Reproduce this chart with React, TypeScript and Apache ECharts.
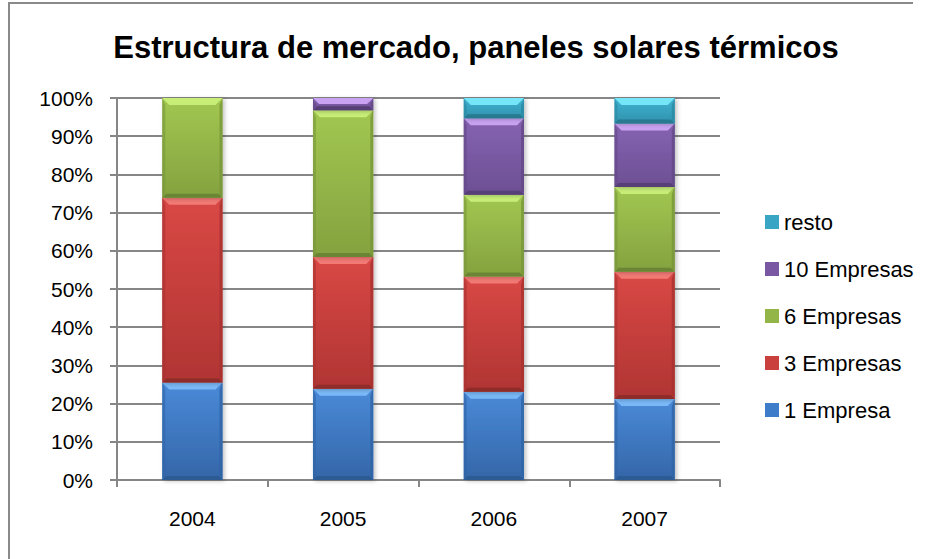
import React, { useEffect, useRef } from "react";
import * as echarts from "echarts";

const categories = ["2004", "2005", "2006", "2007"];
const unaEmpresa = [25.5, 23.9, 23.1, 21.2];
const tresEmpresas = [48.4, 34.5, 30.2, 33.3];
const seisEmpresas = [26.1, 38.4, 21.4, 22.2];
const diezEmpresas = [0, 3.2, 20.0, 16.6];
const resto = [0, 0, 5.3, 6.7];

const seriesNames = ["1 Empresa", "3 Empresas", "6 Empresas", "10 Empresas", "resto"];
const seriesValues = [unaEmpresa, tresEmpresas, seisEmpresas, diezEmpresas, resto];

const palettes = [
  { base: "#3d7cc9", light: "#7ab8f7", top: "#4a8ad8", bottom: "#3466a8", side: "#2f64a6", dark: "#2c5a92" },
  { base: "#c9403d", light: "#f37a75", top: "#d94845", bottom: "#b03533", side: "#a83230", dark: "#8e2c2a" },
  { base: "#93b548", light: "#c8ee78", top: "#a2c751", bottom: "#84a23f", side: "#78963a", dark: "#6a8534" },
  { base: "#7957a3", light: "#c9a3f2", top: "#8663b2", bottom: "#6c4f93", side: "#634887", dark: "#563f76" },
  { base: "#37a5c3", light: "#74e6f7", top: "#3fb4d3", bottom: "#3191ac", side: "#2c89a3", dark: "#277a90" },
];

function buildData(k: number) {
  return categories.map((_, i) => {
    let bottom = 0;
    for (let j = 0; j < k; j++) bottom += seriesValues[j][i];
    return [i, bottom, bottom + seriesValues[k][i]];
  });
}

const FONT = "Liberation Sans, Arial, sans-serif";

export default function App() {
  const ref = useRef<HTMLDivElement>(null);
  useEffect(() => {
    if (!ref.current) return;
    const chart = echarts.init(ref.current, null, { renderer: "svg" });
    const series = seriesNames.map((name, k) => {
      const pal = palettes[k];
      return {
        name,
        type: "custom",
        itemStyle: { color: pal.base },
        encode: { x: 0, y: [1, 2] },
        data: buildData(k),
        renderItem: (params: any, api: any) => {
          const idx = api.value(0);
          const b = api.value(1);
          const t = api.value(2);
          if (t - b <= 0) return null;
          const p0 = api.coord([idx, b]);
          const p1 = api.coord([idx, t]);
          const bw = api.size([1, 0])[0] * 0.4;
          const left = p0[0] - bw / 2;
          const right = left + bw;
          const yTop = p1[1];
          const yBot = p0[1];
          const h = yBot - yTop;
          const d = Math.min(7, h / 2);
          const db = Math.min(4, h / 3);
          return {
            type: "group",
            children: [
              {
                type: "rect",
                shape: { x: left, y: yTop, width: bw, height: h },
                style: {
                  fill: new echarts.graphic.LinearGradient(0, 0, 0, 1, [
                    { offset: 0, color: pal.top },
                    { offset: 1, color: pal.bottom },
                  ]),
                  shadowBlur: 4,
                  shadowOffsetX: 2,
                  shadowOffsetY: 1,
                  shadowColor: "rgba(0,0,0,0.25)",
                },
              },
              {
                type: "polygon",
                shape: { points: [[left, yTop], [right, yTop], [right - d, yTop + d], [left + d, yTop + d]] },
                style: { fill: pal.light },
              },
              {
                type: "polygon",
                shape: { points: [[left, yBot], [right, yBot], [right - db, yBot - db], [left + db, yBot - db]] },
                style: { fill: pal.dark },
              },
              {
                type: "polygon",
                shape: { points: [[left, yTop], [left + 3, yTop + d], [left + 3, yBot - db], [left, yBot]] },
                style: { fill: pal.side, opacity: 0.6 },
              },
              {
                type: "polygon",
                shape: { points: [[right, yTop], [right - 3, yTop + d], [right - 3, yBot - db], [right, yBot]] },
                style: { fill: pal.side, opacity: 0.8 },
              },
            ],
          };
        },
      };
    });

    chart.setOption({
      animation: false,
      title: {
        text: "Estructura de mercado, paneles solares térmicos",
        left: 471,
        textAlign: "center",
        top: 27,
        textStyle: { fontFamily: FONT, fontWeight: "bold", fontSize: 31, color: "#000" },
      },
      graphic: [
        { type: "line", shape: { x1: 8, y1: 3, x2: 913, y2: 3 }, style: { stroke: "#8a8a8a", lineWidth: 2 } },
        { type: "line", shape: { x1: 9, y1: 3, x2: 9, y2: 559 }, style: { stroke: "#8a8a8a", lineWidth: 2 } },
      ],
      legend: {
        orient: "vertical",
        left: 760,
        top: 205,
        icon: "rect",
        itemWidth: 14,
        itemHeight: 14,
        itemGap: 23,
        data: ["resto", "10 Empresas", "6 Empresas", "3 Empresas", "1 Empresa"],
        textStyle: { fontFamily: FONT, fontSize: 22, color: "#000", lineHeight: 24 },
      },
      grid: { left: 117, right: 208, top: 98, bottom: 79, containLabel: false },
      xAxis: {
        type: "category",
        data: categories,
        boundaryGap: true,
        axisLine: { lineStyle: { color: "#868686", width: 2 } },
        axisTick: { show: true, interval: 0, length: 7, lineStyle: { color: "#868686", width: 2 } },
        axisLabel: { margin: 28, fontFamily: FONT, fontSize: 21, color: "#000" },
      },
      yAxis: {
        type: "value",
        min: 0,
        max: 100,
        interval: 10,
        axisLine: { show: true, lineStyle: { color: "#868686", width: 2 } },
        axisTick: { show: true, length: 7, lineStyle: { color: "#868686", width: 2 } },
        splitLine: { show: true, lineStyle: { color: "#868686", width: 2 } },
        axisLabel: { formatter: "{value}%", margin: 24, fontFamily: FONT, fontSize: 21, color: "#000" },
      },
      series,
    });
    return () => chart.dispose();
  }, []);
  return (
    <div
      ref={ref}
      style={{ position: "fixed", left: 0, top: 0, width: 928, height: 559, background: "#fff" }}
    />
  );
}
